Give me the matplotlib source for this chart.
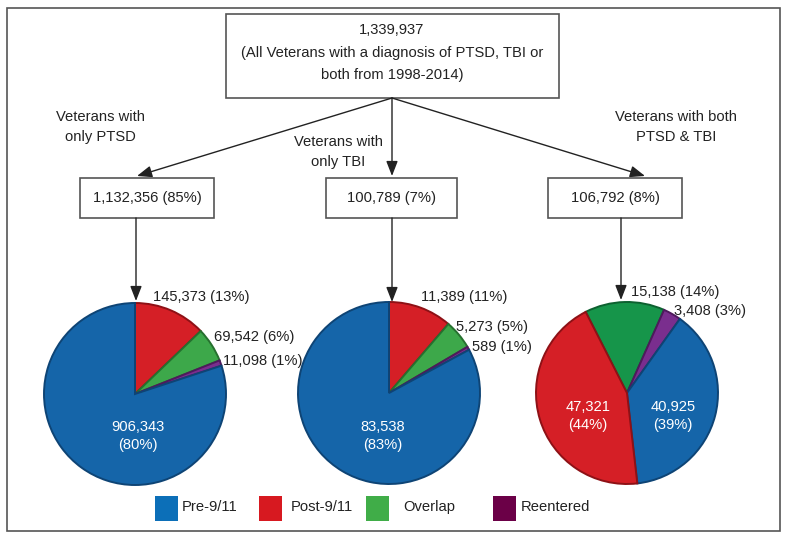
import matplotlib
matplotlib.use("Agg")
import matplotlib.pyplot as plt
from matplotlib.patches import Rectangle

plt.rcParams['font.family'] = ['Liberation Sans', 'DejaVu Sans']

# ---- data ----
total_label = "1,339,937"
total_desc = "(All Veterans with a diagnosis of PTSD, TBI or\nboth from 1998-2014)"
group_titles = ["Veterans with\nonly PTSD", "Veterans with\nonly TBI", "Veterans with both\nPTSD & TBI"]
group_totals = [1132356, 100789, 106792]
group_pcts = [85, 7, 8]
categories = ["Pre-9/11", "Post-9/11", "Overlap", "Reentered"]
pre911 = [906343, 83538, 40925]
post911 = [145373, 11389, 47321]
overlap = [69542, 5273, 15138]
reentered = [11098, 589, 3408]
pre_pct = [80, 83, 39]
post_pct = [13, 11, 44]
overlap_pct = [6, 5, 14]
reentered_pct = [1, 1, 3]

W, H = 791, 542
fig = plt.figure(figsize=(W / 100, H / 100), dpi=100)
ax = fig.add_axes([0, 0, 1, 1])
ax.set_xlim(0, W)
ax.set_ylim(0, H)
ax.axis('off')

def Y(y):
    return H - y

FS = 10.6
TXT = '#222222'

# outer border
ax.add_patch(Rectangle((7, Y(531)), 773, 523, fill=False, ec='#555555', lw=1.2))

# top box
ax.add_patch(Rectangle((226, Y(98)), 333, 84, fill=False, ec='#555555', lw=1.2))
ax.text(392, Y(30), total_label, ha='center', va='center', fontsize=FS, color=TXT)
ax.text(392, Y(64), total_desc, ha='center', va='center', fontsize=FS, color=TXT,
        linespacing=1.65)

# group boxes
box_x = [(80, 214), (326, 457), (548, 682)]
for (x0, x1), tot, pc in zip(box_x, group_totals, group_pcts):
    ax.add_patch(Rectangle((x0, Y(218)), x1 - x0, 40, fill=False, ec='#555555', lw=1.2))
    ax.text((x0 + x1) / 2, Y(198), f"{tot:,} ({pc}%)", ha='center', va='center',
            fontsize=FS, color=TXT)

# group titles
title_pos = [(100, 127), (338, 152), (676, 127)]
for (tx, ty), t in zip(title_pos, group_titles):
    ax.text(tx, Y(ty), t, ha='center', va='center', fontsize=FS, color=TXT,
            linespacing=1.55)

def arrow(x0, y0, x1, y1):
    ax.annotate('', xy=(x1, Y(y1)), xytext=(x0, Y(y0)),
                arrowprops=dict(arrowstyle='-|>,head_length=0.9,head_width=0.35',
                                color='#222222', lw=1.0, shrinkA=0, shrinkB=0))

arrow(392, 98, 137, 176)
arrow(392, 98, 392, 176)
arrow(392, 98, 645, 176)
arrow(136, 218, 136, 301)
arrow(392, 218, 392, 302)
arrow(621, 218, 621, 300)

# pies
pie_colors = ['#D51F26', '#3DA84A', '#7A2E8E', '#1565A9']
pie_edges = ['#8E1116', '#26702F', '#4E1A5C', '#0E4475']
edges_map = {c: e for c, e in zip(pie_colors, pie_edges)}
edges_map['#16954A'] = '#0D6130'
centers = [(135, 394), (389, 393), (627, 393)]
radius = 91
for i in range(3):
    cx, cy = centers[i]
    if i < 2:
        vals = [post911[i], overlap[i], reentered[i], pre911[i]]
        cols = pie_colors
        start = 90
    else:
        vals = [overlap[i], reentered[i], pre911[i], post911[i]]
        cols = ['#16954A', pie_colors[2], pie_colors[3], pie_colors[0]]
        start = 117
    wedges, _ = ax.pie(vals, colors=cols, startangle=start, counterclock=False,
                       center=(cx, Y(cy)), radius=radius, frame=True,
                       wedgeprops=dict(linewidth=1.4))
    for w, c in zip(wedges, cols):
        w.set_edgecolor(edges_map[c])

ax.set_xlim(0, W)
ax.set_ylim(0, H)
ax.set_aspect('auto')

# pie labels
def lbl(x, y, s, color=TXT, ha='left'):
    ax.text(x, Y(y), s, ha=ha, va='center', fontsize=FS, color=color)

lbl(153, 297, f"{post911[0]:,} ({post_pct[0]}%)")
lbl(214, 337, f"{overlap[0]:,} ({overlap_pct[0]}%)")
lbl(223, 361, f"{reentered[0]:,} ({reentered_pct[0]}%)")
ax.text(138, Y(436), f"{pre911[0]:,}\n({pre_pct[0]}%)", ha='center', va='center',
        fontsize=FS, color='white', linespacing=1.3)

lbl(421, 297, f"{post911[1]:,} ({post_pct[1]}%)")
lbl(456, 327, f"{overlap[1]:,} ({overlap_pct[1]}%)")
lbl(472, 347, f"{reentered[1]:,} ({reentered_pct[1]}%)")
ax.text(383, Y(436), f"{pre911[1]:,}\n({pre_pct[1]}%)", ha='center', va='center',
        fontsize=FS, color='white', linespacing=1.3)

lbl(631, 292, f"{overlap[2]:,} ({overlap_pct[2]}%)")
lbl(674, 311, f"{reentered[2]:,} ({reentered_pct[2]}%)")
ax.text(588, Y(416), f"{post911[2]:,}\n({post_pct[2]}%)", ha='center', va='center',
        fontsize=FS, color='white', linespacing=1.3)
ax.text(673, Y(416), f"{pre911[2]:,}\n({pre_pct[2]}%)", ha='center', va='center',
        fontsize=FS, color='white', linespacing=1.3)

# legend
leg_colors = ['#0C6FB8', '#D71920', '#40AD48', '#6B0047']
leg_sq = [155, 259, 366, 493]
leg_txt = [182, 291, 403, 521]
for c, sx, tx, name in zip(leg_colors, leg_sq, leg_txt, categories):
    ax.add_patch(Rectangle((sx, Y(521)), 23, 25, fc=c, ec='none'))
    ax.text(tx, Y(507), name, ha='left', va='center', fontsize=FS, color=TXT)

fig.savefig('out.png', dpi=100)
